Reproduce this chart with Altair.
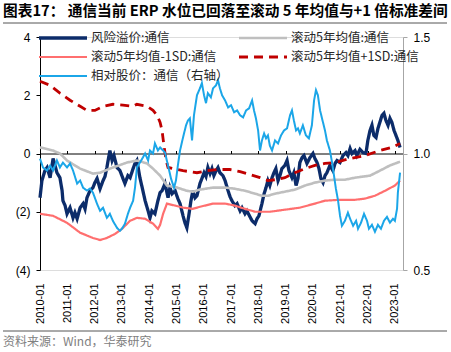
import altair as alt
import pandas as pd

# ---- series names ----
S_RP = "风险溢价:通信"
S_MEAN = "滚动5年均值:通信"
S_LO = "滚动5年均值-1SD:通信"
S_HI = "滚动5年均值+1SD:通信"
S_PX = "相对股价：通信（右轴）"
# legend fills column by column (3 rows x 2 columns)
SERIES = [S_RP, S_LO, S_PX, S_MEAN, S_HI]
COLORS = ["#0c2c6a", "#ff6f6f", "#1ba6e8", "#bfbfbf", "#c00000"]
DASHES = [[1, 0], [1, 0], [1, 0], [1, 0], [9, 6]]
WIDTHS = [3.3, 2.2, 2.0, 2.6, 2.8]

TITLE = "图表17：  通信当前 ERP 水位已回落至滚动 5 年均值与+1 倍标准差间"
SOURCE = "资料来源：Wind，华泰研究"

# time in years since 2010-01-01
rp_t = [0.00, 0.07, 0.18, 0.26, 0.37, 0.48, 0.55, 0.62, 0.73, 0.81, 0.84, 0.92, 0.99, 1.10, 1.21, 1.28,
        1.36, 1.47, 1.58, 1.65, 1.72, 1.83, 1.94, 2.01, 2.09, 2.20, 2.31, 2.38, 2.45, 2.56, 2.64, 2.71,
        2.82, 2.93, 3.04, 3.11, 3.22, 3.30, 3.41, 3.48, 3.55, 3.66, 3.77, 3.85, 3.96, 4.03, 4.10, 4.21,
        4.32, 4.40, 4.47, 4.58, 4.69, 4.76, 4.84, 4.95, 5.05, 5.13, 5.24, 5.31, 5.38, 5.46, 5.53, 5.60,
        5.68, 5.75, 5.86, 5.93, 6.01, 6.08, 6.15, 6.23, 6.30, 6.37, 6.45, 6.52, 6.59, 6.70, 6.78, 6.89,
        6.96, 7.03, 7.14, 7.22, 7.33, 7.40, 7.51, 7.58, 7.69, 7.77, 7.88, 7.95, 8.02, 8.13, 8.21, 8.28,
        8.35, 8.42, 8.50, 8.57, 8.64, 8.72, 8.79, 8.86, 8.97, 9.05, 9.12, 9.23, 9.30, 9.38, 9.45, 9.52,
        9.60, 9.67, 9.78, 9.89, 10.00, 10.07, 10.15, 10.22, 10.29, 10.37, 10.44, 10.51, 10.62, 10.73,
        10.81, 10.88, 10.99, 11.10, 11.21, 11.28, 11.36, 11.43, 11.54, 11.61, 11.72, 11.83, 11.94, 12.01,
        12.09, 12.16, 12.23, 12.31, 12.38, 12.45, 12.53, 12.60, 12.67, 12.75, 12.82, 12.89, 12.97, 13.04,
        13.11, 13.19]
rp_v = [-1.52, -0.93, -0.59, -0.48, -0.83, -0.17, -0.41, -0.66, -0.83, -1.28, -1.62, -1.79, -2.07, -1.86,
        -2.21, -2.03, -2.24, -1.86, -1.72, -1.90, -1.52, -1.28, -1.17, -1.00, -0.86, -1.21, -0.93, -0.79,
        -0.48, 0.10, -0.24, -0.07, -0.48, -0.59, -0.86, -1.03, -0.76, -0.83, -0.52, -0.34, -0.24, -0.83,
        -1.28, -1.62, -1.97, -2.21, -1.97, -2.07, -1.62, -1.34, -1.28, -1.03, -1.52, -1.17, -1.38, -1.28,
        -1.55, -1.72, -2.14, -2.38, -2.55, -2.07, -1.62, -1.28, -1.52, -1.45, -1.03, -0.86, -0.66, -0.79,
        -0.48, -0.69, -0.52, -0.76, -0.59, -0.48, -0.66, -0.76, -0.93, -1.28, -1.48, -1.62, -1.79, -1.72,
        -1.97, -1.86, -2.07, -1.97, -2.17, -2.31, -2.41, -2.24, -2.14, -1.72, -1.38, -1.17, -0.93, -1.10,
        -0.83, -0.66, -0.52, -0.93, -0.76, -0.52, -0.41, -0.24, -0.59, -0.83, -0.66, -1.10, -0.86, -0.31,
        -0.14, -0.07, -0.34, -0.14, 0.00, -0.17, -0.31, -0.52, -0.86, -1.00, -0.76, -0.66, -0.41, -0.59,
        -0.34, -0.24, -0.31, -0.07, 0.03, -0.07, 0.17, 0.00, 0.10, -0.07, 0.14, 0.03, 0.00, 0.45,
        0.79, 0.97, 0.62, 0.55, 0.86, 1.07, 1.31, 1.38, 1.14, 0.97, 1.21, 1.07, 0.79, 0.62,
        0.45, 0.21]

px_t = [0.00, 0.11, 0.26, 0.37, 0.48, 0.62, 0.73, 0.84, 0.99, 1.10, 1.21, 1.36, 1.47, 1.58, 1.72, 1.83,
        1.94, 2.09, 2.20, 2.31, 2.45, 2.56, 2.67, 2.82, 2.93, 3.00, 3.11, 3.22, 3.30, 3.41, 3.48, 3.55,
        3.66, 3.77, 3.85, 3.96, 4.03, 4.14, 4.21, 4.32, 4.40, 4.51, 4.58, 4.69, 4.80, 4.91, 4.98, 5.05,
        5.13, 5.24, 5.35, 5.42, 5.49, 5.57, 5.64, 5.75, 5.86, 5.93, 6.01, 6.08, 6.15, 6.26, 6.34, 6.45,
        6.52, 6.59, 6.67, 6.78, 6.89, 7.00, 7.11, 7.22, 7.33, 7.44, 7.55, 7.66, 7.77, 7.84, 7.91, 7.99,
        8.06, 8.13, 8.21, 8.28, 8.35, 8.42, 8.50, 8.61, 8.72, 8.83, 8.94, 9.05, 9.16, 9.23, 9.30, 9.38,
        9.45, 9.52, 9.63, 9.74, 9.85, 9.96, 10.04, 10.11, 10.18, 10.26, 10.33, 10.44, 10.51, 10.62, 10.70,
        10.77, 10.84, 10.92, 10.99, 11.06, 11.17, 11.28, 11.36, 11.47, 11.58, 11.65, 11.76, 11.87, 11.98,
        12.05, 12.16, 12.27, 12.38, 12.49, 12.60, 12.71, 12.82, 12.93, 13.00, 13.08, 13.11, 13.15, 13.19]
px_v = [0.978, 0.940, 0.927, 0.948, 0.927, 0.970, 0.940, 0.961, 0.940, 0.957, 0.927, 0.871, 0.884, 0.853,
        0.841, 0.849, 0.832, 0.784, 0.754, 0.767, 0.724, 0.741, 0.711, 0.681, 0.668, 0.677, 0.698, 0.741,
        0.767, 0.797, 0.853, 0.940, 0.961, 0.983, 1.000, 0.970, 1.013, 1.000, 1.043, 1.013, 1.026, 1.013,
        1.004, 0.948, 0.892, 0.853, 0.884, 0.948, 1.013, 1.069, 1.121, 1.142, 1.151, 1.056, 1.164, 1.250,
        1.280, 1.302, 1.250, 1.216, 1.259, 1.241, 1.280, 1.293, 1.315, 1.280, 1.250, 1.228, 1.198, 1.207,
        1.177, 1.185, 1.164, 1.155, 1.185, 1.194, 1.228, 1.185, 1.151, 1.099, 1.013, 1.056, 1.086, 1.065,
        1.078, 1.034, 1.013, 1.056, 1.043, 1.078, 1.099, 1.108, 1.164, 1.185, 1.142, 1.099, 1.108, 1.086,
        1.121, 1.078, 1.065, 1.121, 1.228, 1.272, 1.250, 1.185, 1.151, 1.099, 1.056, 1.013, 0.961, 0.905,
        0.849, 0.797, 0.733, 0.690, 0.711, 0.746, 0.720, 0.690, 0.711, 0.677, 0.703, 0.741, 0.711, 0.677,
        0.694, 0.664, 0.694, 0.677, 0.711, 0.728, 0.703, 0.720, 0.711, 0.763, 0.832, 0.875, 0.918]

mean_t = [0.00, 0.48, 0.73, 0.99, 1.47, 1.94, 2.20, 2.67, 3.19, 3.55, 3.92, 4.14, 4.40, 4.65, 5.02, 5.38,
          5.60, 5.86, 6.34, 6.78, 7.14, 7.51, 7.88, 8.13, 8.35, 8.61, 8.97, 9.34, 9.71, 10.07, 10.44,
          10.81, 11.17, 11.54, 12.09, 12.45, 12.82, 13.19]
mean_v = [0.21, 0.10, 0.00, -0.24, -0.52, -0.69, -0.66, -0.48, -0.31, -0.24, -0.34, -0.52, -0.76, -1.10,
          -1.17, -1.28, -1.31, -1.24, -1.17, -1.17, -1.21, -1.28, -1.38, -1.45, -1.45, -1.38, -1.31, -1.24,
          -1.10, -1.00, -0.93, -0.90, -0.90, -0.83, -0.76, -0.59, -0.41, -0.28]

lo_t = [0.00, 0.48, 0.99, 1.47, 1.94, 2.20, 2.45, 2.75, 3.00, 3.30, 3.55, 3.85, 4.14, 4.32, 4.40, 4.51,
        4.65, 4.95, 5.24, 5.60, 5.86, 6.34, 6.78, 7.14, 7.51, 7.88, 8.42, 8.97, 9.52, 10.07, 10.44, 10.99,
        11.54, 11.90, 12.27, 12.64, 13.00, 13.19]
lo_v = [-2.07, -2.14, -2.38, -2.72, -2.90, -2.97, -2.90, -2.76, -2.59, -2.31, -2.21, -2.24, -2.41, -2.59,
        -2.45, -2.07, -1.72, -1.79, -1.86, -1.90, -1.83, -1.72, -1.72, -1.79, -1.90, -2.00, -2.00, -1.93,
        -1.86, -1.72, -1.62, -1.59, -1.59, -1.55, -1.45, -1.28, -1.10, -0.93]

hi_t = [0.00, 0.37, 0.73, 1.10, 1.47, 1.72, 2.01, 2.31, 2.67, 3.04, 3.41, 3.55, 3.92, 4.14, 4.29, 4.40,
        4.47, 4.54, 4.62, 4.69, 4.87, 5.24, 5.75, 6.12, 6.48, 6.96, 7.33, 7.69, 8.06, 8.35, 8.61, 8.97,
        9.34, 9.71, 10.07, 10.44, 10.81, 11.36, 11.90, 12.45, 12.89, 13.19]
hi_v = [2.48, 2.34, 2.07, 1.83, 1.62, 1.48, 1.48, 1.62, 1.69, 1.66, 1.62, 1.69, 1.62, 1.48, 1.31, 1.07,
        0.79, 0.28, -0.24, -0.48, -0.52, -0.59, -0.66, -0.59, -0.55, -0.55, -0.62, -0.72, -0.83, -0.93,
        -0.90, -0.83, -0.66, -0.52, -0.41, -0.34, -0.31, -0.17, -0.07, 0.10, 0.21, 0.34]

START = pd.Timestamp("2010-01-01")


def frame(ts, vs, name):
    return pd.DataFrame({
        "date": [START + pd.Timedelta(days=float(t) * 365.25) for t in ts],
        "value": vs,
        "series": name,
    })


df_rp = frame(rp_t, rp_v, S_RP)
df_mean = frame(mean_t, mean_v, S_MEAN)
df_lo = frame(lo_t, lo_v, S_LO)
df_hi = frame(hi_t, hi_v, S_HI)
df_px = frame(px_t, px_v, S_PX)

year_ticks = [alt.DateTime(year=y, month=1, date=1) for y in range(2010, 2024)]
x_scale = alt.Scale(domain=[alt.DateTime(year=2010, month=1, date=1),
                            alt.DateTime(year=2023, month=4, date=20)])

x_bottom = alt.X("date:T", scale=x_scale, title=None,
                 axis=alt.Axis(values=year_ticks, format="%Y-%m", labelAngle=270,
                               labelAlign="right", labelBaseline="middle",
                               labelFont="Liberation Sans", labelFontSize=11, labelColor="#000000",
                               labelPadding=13, ticks=False, domain=False, grid=False,
                               labelOverlap=False, labelBound=False, labelFlush=False))
x_top = alt.X("date:T", scale=x_scale, title=None,
              axis=alt.Axis(orient="top", offset=-116.5, values=year_ticks, labels=False,
                            ticks=True, tickSize=3, tickColor="#000000", domainColor="#000000",
                            domainWidth=1, grid=False))

legend = alt.Legend(orient="none", legendX=-3, legendY=-6, columns=2, columnPadding=8,
                    rowPadding=5, clipHeight=14, labelFont="Noto Sans CJK SC", labelFontSize=12.5,
                    labelColor="#262626", labelOffset=2, symbolType="stroke", symbolSize=2304,
                    padding=0, labelLimit=300, title=None)

color = alt.Color("series:N", scale=alt.Scale(domain=SERIES, range=COLORS), title=None, legend=legend)
dash = alt.StrokeDash("series:N", scale=alt.Scale(domain=SERIES, range=DASHES), title=None, legend=legend)
width = alt.StrokeWidth("series:N", scale=alt.Scale(type="ordinal", domain=SERIES, range=WIDTHS),
                        title=None, legend=legend)

y_left = alt.Y("value:Q", scale=alt.Scale(domain=[-4, 4], nice=False, zero=False), title=None,
               axis=alt.Axis(values=[-4, -2, 0, 2, 4], grid=False,
                             labelExpr="datum.value < 0 ? '(' + abs(datum.value) + ')' : datum.value + '\u00a0'",
                             labelFont="Liberation Sans", labelFontSize=12, labelColor="#000000",
                             domainColor="#000000", tickColor="#000000", tickSize=4, labelPadding=6))
y_right = alt.Y("value:Q", scale=alt.Scale(domain=[0.5, 1.5], nice=False, zero=False), title=None,
                axis=alt.Axis(orient="right", values=[0.5, 1.0, 1.5], format=".1f", grid=False,
                              labelFont="Liberation Sans", labelFontSize=12, labelColor="#000000",
                              domainColor="#a6a6a6", tickColor="#a6a6a6", tickSize=4, labelPadding=6))


def left_line(df):
    return alt.Chart(df).mark_line(interpolate="linear").encode(
        x=x_bottom, y=y_left, color=color, strokeDash=dash, strokeWidth=width)


left = alt.layer(left_line(df_rp), left_line(df_mean), left_line(df_lo), left_line(df_hi))
right = alt.Chart(df_px).mark_line().encode(
    x=x_top, y=y_right, color=color, strokeDash=dash, strokeWidth=width)

deco_df = pd.DataFrame({"title": [TITLE], "source": [SOURCE]})
title_txt = alt.Chart(deco_df).mark_text(
    align="left", baseline="alphabetic", font="Noto Sans CJK SC", fontWeight="bold",
    fontSize=14.7, color="#000000").encode(x=alt.value(-37), y=alt.value(-21), text="title:N")
source_txt = alt.Chart(deco_df).mark_text(
    align="left", baseline="alphabetic", font="Noto Sans CJK SC", fontSize=12,
    color="#808080").encode(x=alt.value(-37), y=alt.value(309), text="source:N")
rule_top = alt.Chart(deco_df).mark_rule(color="#555555", strokeWidth=1).encode(
    x=alt.value(-37), x2=alt.value(407), y=alt.value(-14))
rule_bot = alt.Chart(deco_df).mark_rule(color="#555555", strokeWidth=1).encode(
    x=alt.value(-37), x2=alt.value(407), y=alt.value(294))
deco = alt.layer(title_txt, source_txt, rule_top, rule_bot)

chart = alt.layer(left, right, deco).resolve_scale(y="independent").resolve_axis(
    x="independent", y="independent"
).properties(
    width=363, height=233,
    autosize=alt.AutoSizeParams(type="none"),
    padding={"left": 40, "top": 37, "right": 48, "bottom": 82},
).configure_view(stroke=None).configure(background="white")

chart.save("out.html", embed_options={"renderer": "svg", "actions": False})
